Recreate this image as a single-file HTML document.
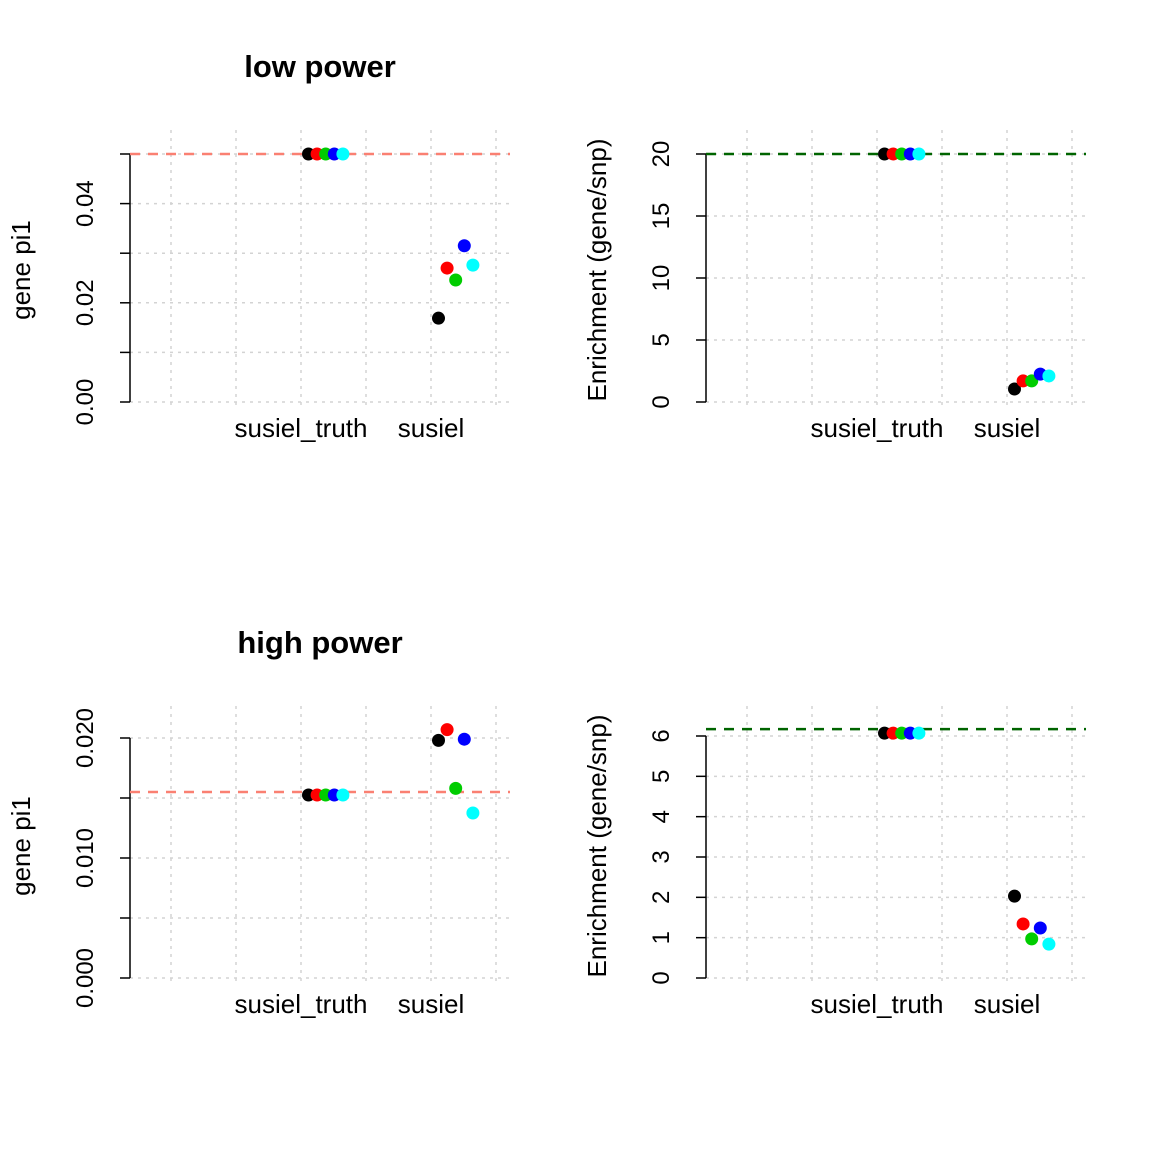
<!DOCTYPE html>
<html><head><meta charset="utf-8"><style>
body{margin:0;background:#fff}
svg{display:block;font-family:"Liberation Sans",sans-serif}
</style></head><body>
<svg id="chart" width="1152" height="1152" viewBox="0 0 1152 1152"></svg>
<script>
const categories = ["susiel_truth", "susiel"];
const colors = ["#000000", "#ff0000", "#00cd00", "#0000ff", "#00ffff"];
const p1Truth = [0.05, 0.05, 0.05, 0.05, 0.05];
const p1Susie = [0.0169, 0.027, 0.0246, 0.0315, 0.0276];
const p1Ref = 0.05;
const p2Truth = [20, 20, 20, 20, 20];
const p2Susie = [1.05, 1.7, 1.7, 2.25, 2.1];
const p2Ref = 20;
const p3Truth = [0.01525, 0.01525, 0.01525, 0.01525, 0.01525];
const p3Susie = [0.0198, 0.0207, 0.0158, 0.0199, 0.01375];
const p3Ref = 0.0155;
const p4Truth = [6.07, 6.07, 6.07, 6.07, 6.07];
const p4Susie = [2.03, 1.34, 0.97, 1.24, 0.84];
const p4Ref = 6.17;
const p1Ticks = [0, 0.01, 0.02, 0.03, 0.04, 0.05];
const p1Labels = ["0.00", "", "0.02", "", "0.04", ""];
const p2Ticks = [0, 5, 10, 15, 20];
const p2Labels = ["0", "5", "10", "15", "20"];
const p3Ticks = [0, 0.005, 0.01, 0.015, 0.02];
const p3Labels = ["0.000", "", "0.010", "", "0.020"];
const p4Ticks = [0, 1, 2, 3, 4, 5, 6];
const p4Labels = ["0", "1", "2", "3", "4", "5", "6"];

const svg = document.getElementById('chart');
const NS = 'http://www.w3.org/2000/svg';
function mk(tag, attrs, parent) {
  const e = document.createElementNS(NS, tag);
  for (const k in attrs) e.setAttribute(k, attrs[k]);
  (parent || svg).appendChild(e);
  return e;
}

function panel(o) {
  const g = mk('g', {});
  
  
  const y = v => o.y0 - (v - o.ymin) / (o.ymax - o.ymin) * (o.y0 - o.y1);
  const xCat = i => o.ax + 41 + 65 * (2 + 2 * i);
  for (let k = 0; k < 6; k++) {
    const gx = o.ax + 41 + 65 * k;
    const l = mk('line', {x1: gx, x2: gx, y1: o.top, y2: o.bottom, stroke: '#d3d3d3', 'stroke-width': 1.5, 'stroke-dasharray': '3,5'}, g);
    
    
  }
  o.ticks.forEach((t, i) => {
    const ty = y(t);
    const l = mk('line', {x1: o.ax, x2: o.ax + 380, y1: ty, y2: ty, stroke: '#d3d3d3', 'stroke-width': 1.5, 'stroke-dasharray': '3,5'}, g);
    
    
    const tk = mk('line', {x1: o.ax - 10, x2: o.ax, y1: ty, y2: ty, stroke: '#000', 'stroke-width': 1.5}, g);
    
    
    if (o.labels[i]) {
      const tx = mk('text', {x: 0, y: 0, 'font-size': 24, 'text-anchor': 'middle', transform: `translate(${o.ax - 37},${ty}) rotate(-90)`}, g);
      tx.textContent = o.labels[i];
      
      
    }
  });
  const axl = mk('line', {x1: o.ax, x2: o.ax, y1: y(o.ticks[0]), y2: y(o.ticks[o.ticks.length - 1]), stroke: '#000', 'stroke-width': 1.5}, g);
  
  
  const yt = mk('text', {x: 0, y: 0, 'font-size': 26, 'text-anchor': 'middle', transform: `translate(${o.ax - 100},${(o.top + o.bottom) / 2}) rotate(-90)`}, g);
  yt.textContent = o.ytitle;
  
  
  categories.forEach((c, i) => {
    const t = mk('text', {x: xCat(i), y: o.y0 + 35, 'font-size': 26, 'text-anchor': 'middle'}, g);
    t.textContent = c;
    
    
  });
  if (o.title) {
    const t = mk('text', {x: o.ax + 190, y: o.top - 53, 'font-size': 31, 'font-weight': 'bold', 'text-anchor': 'middle'}, g);
    t.textContent = o.title;
    
    
  }
  const rl = mk('line', {x1: o.ax, x2: o.ax + 380, y1: y(o.ref), y2: y(o.ref), stroke: o.refColor, 'stroke-width': 2.5, 'stroke-dasharray': '10,8'}, g);
  
  
  [o.truth, o.susie].forEach((arr, ci) => {
    arr.forEach((v, j) => {
      const c = mk('circle', {cx: xCat(ci) + 7.5 + 8.6 * j, cy: y(v), r: 6.5, fill: colors[j]}, g);
      
      
    });
  });
}

panel({name: 'panel-low-power-pi1', ax: 130, y0: 402, y1: 154, ymin: 0, ymax: 0.05, top: 130, bottom: 410,
  ticks: p1Ticks, labels: p1Labels, truth: p1Truth, susie: p1Susie, ref: p1Ref, refColor: '#fa8072',
  ytitle: 'gene pi1', title: 'low power'});
panel({name: 'panel-low-power-enrichment', ax: 706, y0: 402, y1: 154, ymin: 0, ymax: 20, top: 130, bottom: 410,
  ticks: p2Ticks, labels: p2Labels, truth: p2Truth, susie: p2Susie, ref: p2Ref, refColor: '#006400',
  ytitle: 'Enrichment (gene/snp)'});
panel({name: 'panel-high-power-pi1', ax: 130, y0: 978, y1: 738, ymin: 0, ymax: 0.02, top: 706, bottom: 986,
  ticks: p3Ticks, labels: p3Labels, truth: p3Truth, susie: p3Susie, ref: p3Ref, refColor: '#fa8072',
  ytitle: 'gene pi1', title: 'high power'});
panel({name: 'panel-high-power-enrichment', ax: 706, y0: 978, y1: 736, ymin: 0, ymax: 6, top: 706, bottom: 986,
  ticks: p4Ticks, labels: p4Labels, truth: p4Truth, susie: p4Susie, ref: p4Ref, refColor: '#006400',
  ytitle: 'Enrichment (gene/snp)'});
</script>
</body></html>
